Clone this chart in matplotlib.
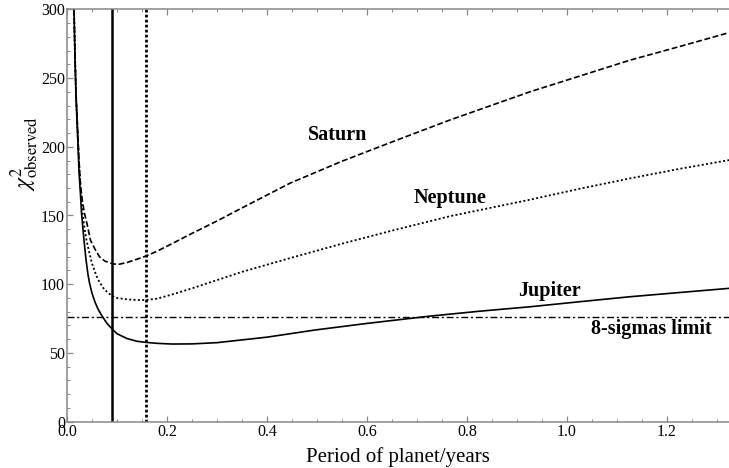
import matplotlib.pyplot as plt
from matplotlib.ticker import MultipleLocator

plt.rcParams['font.family'] = ['Liberation Serif', 'DejaVu Serif']
plt.rcParams['mathtext.fontset'] = 'stix'

# curves (period in years, chi^2)
saturn_x = [0.014, 0.016, 0.018, 0.0207, 0.024, 0.027, 0.031, 0.035, 0.040, 0.047,
            0.056, 0.065, 0.075, 0.085, 0.095, 0.105, 0.12, 0.14, 0.158, 0.18,
            0.21, 0.25, 0.30, 0.35, 0.446, 0.55, 0.65, 0.766, 0.926, 1.026,
            1.126, 1.226, 1.324]
saturn_y = [300, 268, 240, 217, 190, 172, 160, 151.5, 144, 132,
            125.5, 120, 117, 115.5, 114.7, 114.6, 115.8, 118.2, 120.5, 124,
            129.5, 137, 146, 155.5, 173.5, 189.5, 203.5, 219.5, 240, 251.5,
            263, 273, 283]

neptune_x = [0.014, 0.016, 0.018, 0.0207, 0.024, 0.027, 0.031, 0.035, 0.039, 0.044,
             0.050, 0.059, 0.065, 0.075, 0.09, 0.10, 0.12, 0.14, 0.158, 0.18,
             0.21, 0.25, 0.30, 0.35, 0.446, 0.55, 0.65, 0.766, 0.926, 1.026,
             1.126, 1.226, 1.324]
neptune_y = [300, 266, 238, 215, 188, 171, 151.5, 141, 132, 124,
             115, 106, 101.5, 96, 91.5, 90, 89, 88.5, 88.5, 89.5,
             92.5, 97, 103, 109, 119, 129.5, 139, 149.5, 161.5, 169.5,
             177, 184, 190.3]

jupiter_x = [0.014, 0.016, 0.018, 0.0207, 0.024, 0.027, 0.029, 0.031, 0.034, 0.038,
             0.042, 0.045, 0.050, 0.056, 0.062, 0.069, 0.08, 0.09, 0.10, 0.12,
             0.14, 0.158, 0.18, 0.21, 0.25, 0.30, 0.40, 0.496, 0.60, 0.726,
             0.826, 0.926, 1.026, 1.126, 1.226, 1.324]
jupiter_y = [300, 264, 236, 213, 182, 165, 152, 144, 132, 118,
             107, 101, 93.5, 87, 82, 77.5, 71.5, 67.5, 64, 60.5,
             58.5, 57.7, 57, 56.5, 56.6, 57.5, 61.5, 66.7, 71.5, 76.8,
             80.4, 83.6, 87.3, 90.9, 94, 97]

sigma8_limit = 76
period_solid = 0.09
period_dotted = 0.157

labels = ['Saturn', 'Neptune', 'Jupiter', '8-sigmas limit']
label_pos = [(0.542, 208.5), (0.766, 162.5), (0.965, 95.3), (1.169, 67.4)]

fig = plt.figure(figsize=(7.29, 4.68), dpi=100)
ax = fig.add_axes([67 / 729, 46.3 / 468, 662 / 729, 412.4 / 468])

ax.plot(saturn_x, saturn_y, color='black', lw=1.2, dashes=(3.5, 1.6))
ax.plot(neptune_x, neptune_y, color='black', lw=1.3, dashes=(1.1, 1.3))
ax.plot(jupiter_x, jupiter_y, color='black', lw=1.2)

ax.axhline(sigma8_limit, color='black', lw=1.0, dashes=(5, 2, 1.5, 2))
ax.axvline(period_solid, color='black', lw=1.8)
ax.axvline(period_dotted, color='black', lw=2.0, dashes=(1.0, 0.8))

for txt, (lx, ly) in zip(labels, label_pos):
    ax.text(lx, ly, txt, fontsize=14.5, fontweight='bold', ha='center', va='center')

ax.set_xlim(0, 1.324)
ax.set_ylim(0, 300)
ax.xaxis.set_major_locator(MultipleLocator(0.2))
ax.xaxis.set_minor_locator(MultipleLocator(0.05))
ax.yaxis.set_major_locator(MultipleLocator(50))
ax.yaxis.set_minor_locator(MultipleLocator(10))
ax.xaxis.set_major_formatter(plt.FuncFormatter(lambda v, p: f'{v:.1f}'))

ax.tick_params(which='both', direction='in', color='#888888', top=True, right=False,
               labelsize=11.5, pad=1.5)
ax.tick_params(which='major', length=4, width=0.9)
ax.tick_params(which='minor', length=2.2, width=0.7)
ax.spines['right'].set_visible(False)
for s in ['left', 'bottom', 'top']:
    ax.spines[s].set_color('#888888')
    ax.spines[s].set_linewidth(1.1)

ax.set_xlabel('Period of planet/years', fontsize=15, labelpad=5)
fig.text(25 / 729, 1 - 154 / 468, r'$\chi^2_{\mathrm{observed}}$', fontsize=17,
         rotation=90, ha='center', va='center')

fig.savefig('out.png', dpi=100)
